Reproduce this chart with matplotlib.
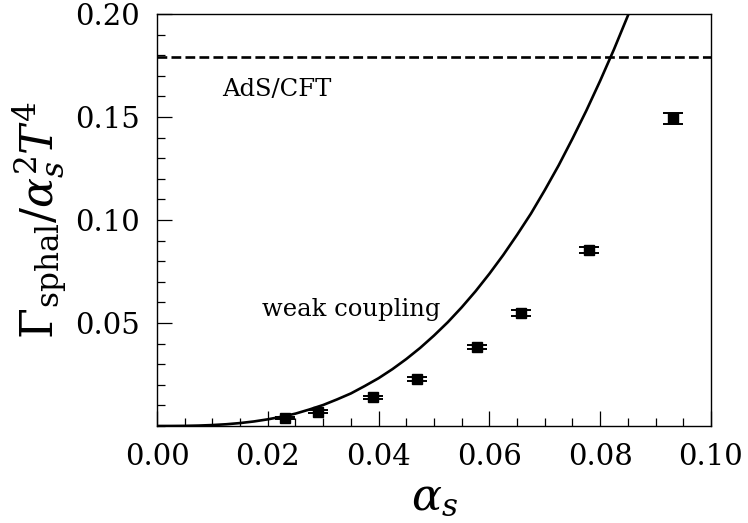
import numpy as np
import matplotlib
matplotlib.use("Agg")
import matplotlib.pyplot as plt
from matplotlib.ticker import MultipleLocator

plt.rcParams["font.family"] = "DejaVu Serif"
plt.rcParams["mathtext.fontset"] = "dejavuserif"

# lattice points
alpha = [0.0231, 0.0290, 0.0390, 0.0470, 0.0578, 0.0657, 0.0780, 0.0932]
gamma = [0.0038, 0.0070, 0.0139, 0.0227, 0.0382, 0.0548, 0.0854, 0.1494]
gamma_err = [0.0005, 0.0006, 0.0006, 0.0010, 0.0010, 0.0015, 0.0015, 0.0026]

# weak coupling curve
wc_alpha = [0.0000, 0.0025, 0.0050, 0.0075, 0.0100, 0.0125, 0.0150, 0.0175,
            0.0200, 0.0225, 0.0250, 0.0275, 0.0300, 0.0325, 0.0350, 0.0375,
            0.0400, 0.0425, 0.0450, 0.0475, 0.0500, 0.0525, 0.0550, 0.0575,
            0.0600, 0.0625, 0.0650, 0.0675, 0.0700, 0.0725, 0.0750, 0.0775,
            0.0800, 0.0825, 0.0850, 0.0860]
wc_gamma = [0.0, 0.00001, 0.00006, 0.0002, 0.00045, 0.00084, 0.00142, 0.0022,
            0.00323, 0.0045, 0.0060, 0.0080, 0.0102, 0.0129, 0.0158, 0.0194,
            0.0232, 0.0276, 0.0325, 0.0379, 0.0439, 0.0504, 0.0576, 0.0654,
            0.0739, 0.0830, 0.0928, 0.1031, 0.1145, 0.1265, 0.1395, 0.1531,
            0.1676, 0.1829, 0.1992, 0.206]

ads_cft = 0.179

fig = plt.figure(figsize=(7.48, 5.23), dpi=100)
ax = fig.add_axes([0.2099, 0.1855, 0.7406, 0.7877])

ax.plot(wc_alpha, wc_gamma, "-", color="k", lw=1.9)
ax.axhline(ads_cft, color="k", ls="--", lw=1.9)
ax.errorbar(alpha, gamma, yerr=gamma_err, fmt="s", color="k", ms=7,
            elinewidth=1.4, capsize=7.5, capthick=1.4)

ax.text(0.0117, 0.160, "AdS/CFT", fontsize=17.5)
ax.text(0.0189, 0.0534, "weak coupling", fontsize=17.5)

ax.set_xlim(0, 0.10)
ax.set_ylim(0, 0.20)
ax.xaxis.set_major_locator(MultipleLocator(0.02))
ax.xaxis.set_minor_locator(MultipleLocator(0.005))
ax.set_yticks([0.05, 0.10, 0.15, 0.20])
ax.yaxis.set_minor_locator(MultipleLocator(0.01))
ax.xaxis.set_major_formatter(matplotlib.ticker.FormatStrFormatter("%.2f"))
ax.yaxis.set_major_formatter(matplotlib.ticker.FormatStrFormatter("%.2f"))
ax.tick_params(which="both", direction="in", top=False, right=False, labelsize=21, width=0.9)
ax.tick_params(which="major", length=11, pad=12)
ax.tick_params(which="minor", length=5.5)
for s in ax.spines.values():
    s.set_linewidth(1.0)

ax.set_xlabel(r"$\alpha_s$", fontsize=32)
ax.set_ylabel(r"$\Gamma_{\mathrm{sphal}}/\alpha_s^2 T^4$", fontsize=32)

fig.savefig("out.png", dpi=100)
